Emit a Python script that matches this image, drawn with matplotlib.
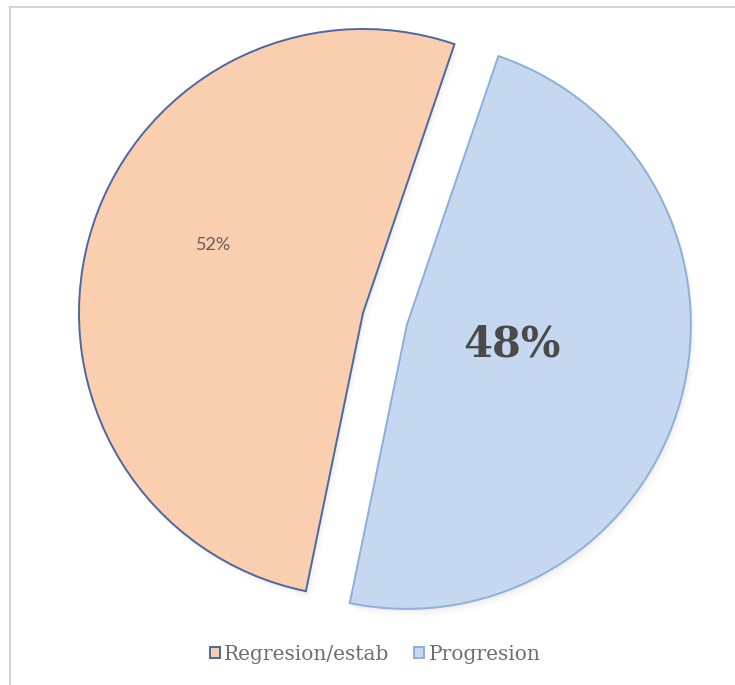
import matplotlib
matplotlib.use("Agg")
import matplotlib.pyplot as plt
from matplotlib.lines import Line2D
from matplotlib.patches import Patch, Wedge

# Data
categories = ["Regresion/estab", "Progresion"]
shares = [52, 48]

fill_colors = ["#f9cfb0", "#c6d8ef"]
edge_colors = ["#4d67a0", "#8eaedc"]

W, H, DPI = 735, 685, 100
fig = plt.figure(figsize=(W / DPI, H / DPI), dpi=DPI)
fig.patch.set_facecolor("white")

# Pie axes: unit radius = 284 px, main centre at (363, 313) px from top-left
scale = 284.0
cx, cy = 363.0, 313.0
ax = fig.add_axes([0, 0, 1, 1])

wedges, texts, autotexts = ax.pie(
    shares,
    explode=[0, 0.16],
    colors=fill_colors,
    startangle=90 - 191.6,
    counterclock=False,
    radius=1.0,
    autopct="%d%%",
    wedgeprops=dict(linewidth=1.4),
    frame=False,
)
ax.set_xlim(-cx / scale, (W - cx) / scale)
ax.set_ylim((cy - H) / scale, cy / scale)
ax.set_aspect("equal")
ax.axis("off")

for w, ec in zip(wedges, edge_colors):
    w.set_edgecolor(ec)

# Soft shadow below the slices
for w in wedges:
    for k, a in enumerate([0.05, 0.035, 0.02]):
        sh = Wedge(
            (w.center[0] + 0.006 * (k + 1), w.center[1] - 0.01 * (k + 1)),
            w.r, w.theta1, w.theta2, facecolor="#7f7f7f", alpha=a,
            edgecolor="none", zorder=w.get_zorder() - 1,
        )
        ax.add_patch(sh)

# Percentage labels
autotexts[0].set_position((-0.525, 0.239))
autotexts[0].set_fontsize(13)
autotexts[0].set_color("#6b5b55")
autotexts[0].set_fontfamily("Lato")

autotexts[1].set_position((0.525, -0.112))
autotexts[1].set_fontsize(30)
autotexts[1].set_fontweight("bold")
autotexts[1].set_color("#4a4a4a")
autotexts[1].set_fontfamily("DejaVu Serif")

# Legend
handles = [
    Patch(facecolor=fc, edgecolor=ec, linewidth=1.4)
    for fc, ec in zip(fill_colors, edge_colors)
]
leg = fig.legend(
    handles, categories, loc="center", bbox_to_anchor=(375 / W, 1 - 654 / H),
    ncol=2, frameon=False, handlelength=0.5, handleheight=0.5,
    handletextpad=0.2, columnspacing=1.25,
    prop={"family": "DejaVu Serif", "size": 14.5},
)
for t in leg.get_texts():
    t.set_color("#6e6e6e")

# Frame lines along the top and left edges
fig.add_artist(Line2D([10 / W, 1], [1 - 6.5 / H, 1 - 6.5 / H],
                      transform=fig.transFigure, color="#d4d4d4", lw=1.5))
fig.add_artist(Line2D([10 / W, 10 / W], [0, 1 - 6.5 / H],
                      transform=fig.transFigure, color="#d4d4d4", lw=1.5))

fig.savefig("out.png", dpi=DPI, facecolor="white")
